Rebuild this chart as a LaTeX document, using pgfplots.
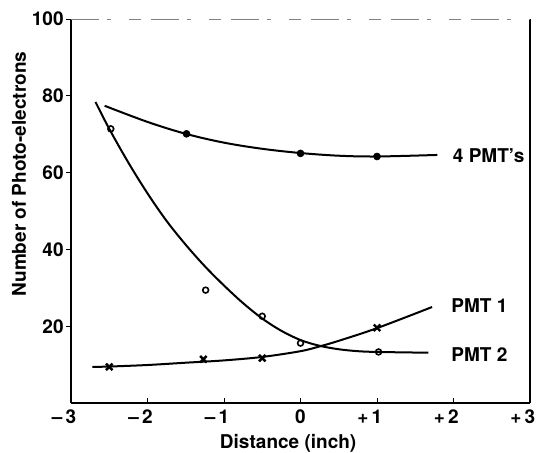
\documentclass[border=0pt]{standalone}
\usepackage{fontspec}
\setsansfont{TeX Gyre Heros}
\usepackage{pgfplots}
\pgfplotsset{compat=1.18}

\begin{document}
\begin{tikzpicture}
\begin{axis}[
    scale only axis,
    width=229.5pt,
    height=192pt,
    xmin=-3, xmax=3,
    ymin=0, ymax=100,
    axis x line*=bottom,
    axis y line*=left,
    axis line style={black, line width=0.6pt},
    xtick={-3,-2,-1,0,1,2,3},
    xticklabels={\llap{--\,}3,\llap{--\,}2,\llap{--\,}1,0,\llap{+\,}1,\llap{+\,}2,\llap{+\,}3},
    ytick={20,40,60,80,100},
    yticklabels={20,40,60,80,100},
    x tick style={black, line width=0.5pt},
    y tick style={black, line width=0.5pt},
    xtick align=inside,
    ytick align=outside,
    major tick length=2.5pt,
    every tick label/.append style={font=\sffamily\bfseries\fontsize{9.5}{10}\selectfont},
    yticklabel style={inner xsep=1pt},
    xlabel={Distance (inch)},
    ylabel={Number of Photo-electrons},
    every axis label/.append style={font=\sffamily\bfseries\fontsize{9.5}{10}\selectfont},
    every axis x label/.style={at={(rel axis cs:0.473,-0.104)}, anchor=center},
    every axis y label/.style={at={(rel axis cs:-0.1133,0.596)}, rotate=90, anchor=center},
    clip=false,
]
% right and top frame
\draw[black, line width=0.6pt] (rel axis cs:1,0) -- (rel axis cs:1,1);
\draw[black!50, line width=0.45pt, dash pattern=on 14pt off 4pt on 2pt off 9pt on 6pt off 5pt] (rel axis cs:0,1) -- (rel axis cs:1,1);

% fitted curves
\addplot[black, line width=1pt, smooth, tension=0.55] coordinates {
    (-2.56,77.4) (-2.0,73.2) (-1.5,70.1) (-1.0,67.8) (-0.5,66.2)
    (0.0,65.1) (0.5,64.4) (1.0,64.2) (1.79,64.6)};
\addplot[black, line width=1pt, smooth, tension=0.55] coordinates {
    (-2.68,78.4) (-2.5,71.4) (-2.25,62.6) (-2.0,54.6) (-1.75,47.4)
    (-1.5,41.2) (-1.25,35.6) (-1.0,30.6) (-0.75,26.0) (-0.5,22.0)
    (-0.25,18.8) (0.0,16.4) (0.25,14.9) (0.5,14.0) (0.75,13.5)
    (1.0,13.3) (1.67,13.1)};
\addplot[black, line width=1pt, smooth, tension=0.55] coordinates {
    (-2.72,9.4) (-2.5,9.5) (-2.0,9.9) (-1.5,10.5) (-1.0,11.1) (-0.5,12.0)
    (0.0,13.5) (0.26,14.8) (0.5,16.2) (1.0,19.5) (1.72,25.0)};

% measured points
\addplot[only marks, mark=*, mark size=1.7pt, black] coordinates {
    (-1.49,70.1) (0.0,65.0) (1.0,64.2)};
\addplot[only marks, mark=o, mark size=1.45pt, black, mark options={fill=white, line width=0.8pt}] coordinates {
    (-2.48,71.4) (-1.24,29.4) (-0.5,22.6) (0.0,15.6) (1.02,13.3)};
\addplot[only marks, mark=x, mark size=2.3pt, black, mark options={line width=1.2pt}] coordinates {
    (-2.5,9.4) (-1.27,11.4) (-0.5,11.7) (1.0,19.6)};

% curve labels
\node[anchor=west, font=\sffamily\bfseries\fontsize{9.5}{10}\selectfont] at (axis cs:1.9,64.4) {4 PMT's};
\node[anchor=west, font=\sffamily\bfseries\fontsize{9.5}{10}\selectfont] at (axis cs:1.88,25.3) {PMT 1};
\node[anchor=west, font=\sffamily\bfseries\fontsize{9.5}{10}\selectfont] at (axis cs:1.88,12.5) {PMT 2};
\end{axis}
\pgfresetboundingbox
\path[use as bounding box] ([shift={(-35.5pt,-24.5pt)}]current axis.south west) rectangle ([shift={(3pt,9.5pt)}]current axis.north east);
\end{tikzpicture}
\end{document}
